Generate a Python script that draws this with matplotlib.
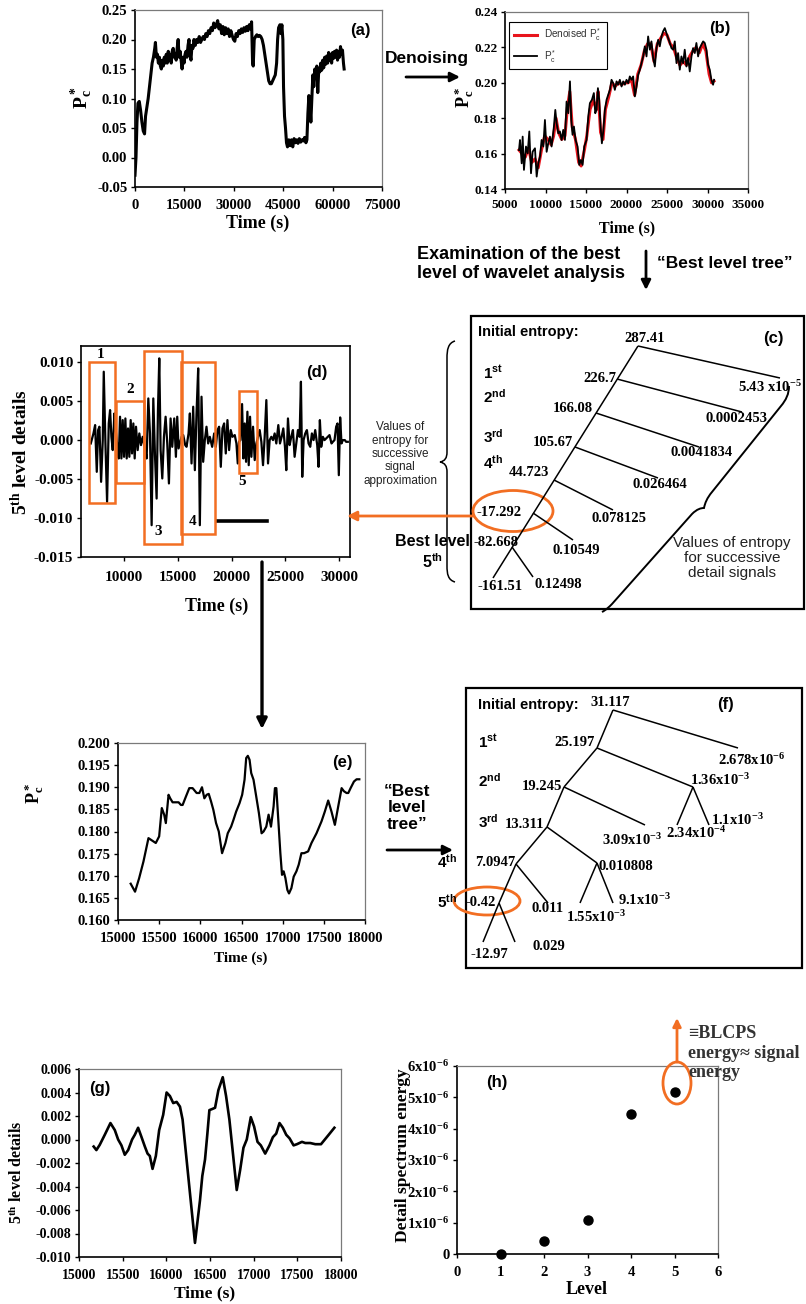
import matplotlib
matplotlib.use("Agg")
import matplotlib.pyplot as plt
from matplotlib.patches import Rectangle, Ellipse, PathPatch
from matplotlib.path import Path
from matplotlib.ticker import FixedLocator, FormatStrFormatter, StrMethodFormatter

W, H = 806, 1304
SERIF = ["Liberation Serif", "DejaVu Serif"]
SANS = ["Liberation Sans", "DejaVu Sans"]
ORANGE = "#F26E22"

plt.rcParams.update({
    "font.family": SERIF,
    "font.weight": "bold",
    "mathtext.fontset": "custom",
    "mathtext.default": "regular",
    "mathtext.rm": "Liberation Serif:bold",
    "mathtext.it": "Liberation Serif:bold",
    "mathtext.bf": "Liberation Serif:bold",
    "axes.unicode_minus": False,
    "xtick.major.size": 3, "ytick.major.size": 3,
    "xtick.major.width": 1.0, "ytick.major.width": 1.0,
    "xtick.major.pad": 5.5, "ytick.major.pad": 2.5,
})

# ---------------- data ----------------
# (a) raw dimensionless pressure over the whole run
a_time = [0, 300, 600, 900, 1300, 1700, 2100, 2500, 2900, 3200,
          3600, 4000, 4400, 4800, 5200, 5600, 6000, 6200, 6500, 6800,
          7100, 7400, 7700, 8000, 8300, 8600, 8900, 9200, 9500, 9800,
          10100, 10400, 10700, 11000, 11300, 11600, 11900, 12200, 12500, 12800,
          13100, 13400, 13700, 14000, 14300, 14600, 14900, 15200, 15500, 15800,
          16100, 16400, 16700, 17000, 17300, 17600, 17900, 18300, 18700, 19100,
          19500, 19900, 20300, 20700, 21100, 21500, 21900, 22300, 22700, 23100,
          23500, 23900, 24300, 24700, 25100, 25500, 25900, 26300, 26700, 27100,
          27500, 27900, 28300, 28700, 29100, 29500, 29900, 30300, 30700, 31100,
          31500, 31900, 32300, 32700, 33100, 33500, 33900, 34300, 34700, 35100,
          35400, 35700, 35900, 36200, 36600, 37000, 37400, 37800, 38200, 38600,
          39000, 39400, 39800, 40200, 40600, 41000, 41400, 41800, 42200, 42600,
          43000, 43300, 43600, 44000, 44300, 44600, 44900, 45100, 45400, 45700,
          46000, 46300, 46700, 47100, 47500, 47900, 48300, 48700, 49100, 49500,
          49900, 50300, 50700, 51100, 51500, 51900, 52200, 52500, 52800, 53100,
          53400, 53700, 54000, 54300, 54600, 54900, 55200, 55500, 55800, 56100,
          56400, 56700, 57000, 57300, 57600, 57900, 58200, 58500, 58800, 59100,
          59400, 59700, 60000, 60300, 60600, 60900, 61200, 61500, 61800, 62100,
          62400, 62700, 63000, 63300, 63500]
a_pc = [-0.03, 0.00, 0.06, 0.092, 0.095, 0.08, 0.06, 0.045, 0.040, 0.07,
        0.085, 0.10, 0.12, 0.14, 0.16, 0.17, 0.185, 0.195, 0.17, 0.175,
        0.16, 0.17, 0.155, 0.15, 0.165, 0.155, 0.17, 0.16, 0.175, 0.16,
        0.18, 0.165, 0.175, 0.16, 0.18, 0.185, 0.17, 0.175, 0.165, 0.185,
        0.20, 0.17, 0.18, 0.165, 0.15, 0.17, 0.16, 0.175, 0.18, 0.17,
        0.19, 0.20, 0.175, 0.165, 0.19, 0.185, 0.20, 0.19, 0.20, 0.195,
        0.205, 0.195, 0.20, 0.205, 0.20, 0.21, 0.205, 0.215, 0.21, 0.22,
        0.215, 0.228, 0.22, 0.225, 0.232, 0.218, 0.225, 0.21, 0.222, 0.208,
        0.22, 0.21, 0.218, 0.205, 0.215, 0.207, 0.20, 0.197, 0.21, 0.205,
        0.215, 0.21, 0.218, 0.212, 0.22, 0.214, 0.222, 0.215, 0.225, 0.218,
        0.23, 0.16, 0.155, 0.20, 0.205, 0.208, 0.205, 0.207, 0.205, 0.20,
        0.19, 0.175, 0.16, 0.145, 0.13, 0.125, 0.125, 0.13, 0.135, 0.14,
        0.16, 0.20, 0.22, 0.225, 0.21, 0.225, 0.20, 0.12, 0.07, 0.05,
        0.025, 0.018, 0.03, 0.02, 0.03, 0.018, 0.032, 0.025, 0.03, 0.024,
        0.032, 0.026, 0.03, 0.028, 0.034, 0.025, 0.03, 0.075, 0.105, 0.09,
        0.06, 0.10, 0.14, 0.12, 0.15, 0.135, 0.155, 0.11, 0.15, 0.145,
        0.16, 0.148, 0.165, 0.152, 0.17, 0.158, 0.172, 0.16, 0.178, 0.165,
        0.175, 0.16, 0.178, 0.168, 0.18, 0.17, 0.182, 0.165, 0.18, 0.17,
        0.188, 0.175, 0.182, 0.16, 0.15]

# (b) selected window: measured and denoised signal
b_time = [6730, 6850, 7060, 7180, 7340, 7590, 7800, 8000, 8210, 8410,
          8700, 8910, 9110, 9320, 9520, 9730, 9930, 10140, 10340, 10550,
          10750, 11040, 11210, 11370, 11580, 11780, 11990, 12190, 12400, 12600,
          12810, 13020, 13180, 13340, 13510, 13710, 13960, 14170, 14370, 14580,
          14780, 15070, 15280, 15480, 15730, 15970, 16140, 16300, 16470, 16630,
          16800, 16960, 17130, 17330, 17540, 17740, 17950, 18150, 18360, 18560,
          18770, 18970, 19180, 19390, 19590, 19800, 20000, 20210, 20410, 20620,
          20820, 21030, 21240, 21440, 21650, 21850, 22060, 22260, 22470, 22670,
          22880, 23080, 23290, 23500, 23700, 23910, 24110, 24320, 24520, 24730,
          24930, 25140, 25350, 25550, 25760, 25960, 26170, 26370, 26580, 26780,
          26990, 27190, 27400, 27610, 27810, 28020, 28220, 28430, 28630, 28840,
          29040, 29250, 29460, 29660, 29870, 30070, 30280, 30480, 30690, 30810]
b_pc = [0.162, 0.1677, 0.1545, 0.1696, 0.1508, 0.164, 0.1602, 0.1725, 0.1489, 0.1611,
        0.163, 0.147, 0.1545, 0.1583, 0.1677, 0.164, 0.179, 0.161, 0.1658, 0.1696,
        0.164, 0.1753, 0.1847, 0.1772, 0.1715, 0.1725, 0.1677, 0.1734, 0.1677, 0.1894,
        0.1828, 0.2008, 0.179, 0.1706, 0.1753, 0.1677, 0.164, 0.1536, 0.1564, 0.1536,
        0.164, 0.1677, 0.1809, 0.1885, 0.1904, 0.1942, 0.1828, 0.1847, 0.197, 0.1904,
        0.1753, 0.1658, 0.1725, 0.1847, 0.1904, 0.1932, 0.196, 0.2017, 0.1998, 0.196,
        0.2008, 0.1989, 0.2017, 0.1979, 0.2008, 0.1989, 0.2017, 0.1998, 0.2036, 0.2017,
        0.2036, 0.1923, 0.1979, 0.2045, 0.2074, 0.2111, 0.2149, 0.2206, 0.2149, 0.2262,
        0.2187, 0.2234, 0.214, 0.2092, 0.2196, 0.2243, 0.2206, 0.2262, 0.2291, 0.2309,
        0.2281, 0.2253, 0.2225, 0.2196, 0.2187, 0.2234, 0.2111, 0.2168, 0.2074, 0.2149,
        0.2111, 0.2187, 0.2092, 0.214, 0.2064, 0.2149, 0.2196, 0.2168, 0.2225, 0.2149,
        0.2196, 0.2215, 0.2234, 0.2225, 0.2187, 0.2102, 0.2074, 0.2017, 0.1989, 0.2017]
bd_time = [6730, 7100, 7500, 7900, 8300, 8700, 9100, 9500, 9900, 10300,
           10700, 11000, 11300, 11600, 12000, 12400, 12700, 13000, 13300, 13700,
           14100, 14400, 14800, 15100, 15500, 15900, 16300, 16500, 16800, 17100,
           17400, 17800, 18200, 18600, 19000, 19400, 19800, 20200, 20600, 21000,
           21400, 21800, 22200, 22600, 23000, 23400, 23800, 24200, 24600, 25000,
           25400, 25800, 26200, 26600, 27000, 27400, 27800, 28200, 28600, 29000,
           29400, 29800, 30200, 30500, 30800]
bd_pc = [0.162, 0.160, 0.158, 0.163, 0.155, 0.157, 0.152, 0.162, 0.170, 0.168,
         0.165, 0.170, 0.180, 0.172, 0.168, 0.170, 0.186, 0.195, 0.175, 0.168,
         0.155, 0.153, 0.162, 0.170, 0.185, 0.190, 0.185, 0.195, 0.172, 0.168,
         0.185, 0.192, 0.200, 0.198, 0.200, 0.199, 0.200, 0.200, 0.202, 0.193,
         0.205, 0.210, 0.218, 0.222, 0.222, 0.212, 0.222, 0.225, 0.228, 0.227,
         0.222, 0.220, 0.214, 0.210, 0.212, 0.210, 0.215, 0.218, 0.220, 0.217,
         0.222, 0.218, 0.205, 0.200, 0.201]

# (d) 5th level detail of the denoised signal (values x 1e-3)
d_time = [6910, 7157, 7312, 7466, 7590, 7713, 7868, 8022, 8115, 8270,
          8424, 8579, 8702, 8826, 8949, 9104, 9228, 9382, 9506, 9629,
          9753, 9876, 10000, 10124, 10247, 10371, 10494, 10618, 10742, 10865,
          10989, 11112, 11267, 11421, 11576, 11730, 11947, 12101, 12256, 12410,
          12565, 12719, 12874, 13028, 13152, 13275, 13399, 13554, 13708, 13863,
          14017, 14172, 14326, 14481, 14666, 14820, 14944, 15068, 15191, 15346,
          15500, 15686, 15809, 15995, 16118, 16273, 16427, 16582, 16736, 16891,
          17045, 17200, 17354, 17509, 17663, 17818, 17972, 18189, 18374, 18528,
          18683, 18837, 18992, 19146, 19301, 19455, 19610, 19764, 19919, 20073,
          20290, 20444, 20568, 20691, 20815, 20970, 21093, 21217, 21340, 21464,
          21588, 21711, 21835, 21989, 22144, 22298, 22453, 22607, 22762, 22916,
          23071, 23225, 23380, 23534, 23689, 23843, 23998, 24152, 24338, 24492,
          24647, 24801, 24956, 25079, 25234, 25388, 25543, 25697, 25852, 26006,
          26161, 26315, 26439, 26562, 26686, 26841, 26995, 27150, 27304, 27459,
          27613, 27768, 27953, 28077, 28200, 28324, 28478, 28633, 28787, 28942,
          29096, 29282, 29405, 29560, 29714, 29838, 29961, 30085, 30209, 30332,
          30518, 30641, 30796]
d_detail_milli = [-0.47, 0.81, 1.88, -4.10, 1.24, 1.67, -5.38, -0.04, 8.71, -0.47,
                  -7.94, 2.09, 3.80, 0.38, -1.32, 3.37, 1.24, -0.90, -2.39, 2.95,
                  -2.39, 2.52, -2.18, 2.73, -2.39, 1.45, -2.18, 2.52, -1.75, 2.09,
                  -2.39, 1.67, -1.32, 0.81, -0.68, 0.38, -1.11, -2.39, 5.29, 0.81,
                  -10.93, 5.29, -1.96, -7.52, 3.80, 10.42, -1.32, -4.95, 0.38, 2.95,
                  -0.47, -5.59, 2.73, -0.90, 2.73, -2.18, 2.95, -1.11, -0.47, 0.38,
                  0.60, -0.68, -0.90, 0.81, 3.37, -3.03, 4.23, -3.89, 3.37, 9.14,
                  -10.93, 5.51, -2.82, -0.04, 1.67, -0.47, 0.38, -0.90, 0.81, -0.90,
                  1.24, 1.67, -3.46, 1.45, 2.09, -1.75, 2.52, -1.32, 1.24, 0.38,
                  0.60, -0.47, -3.03, -0.26, -0.04, 4.57, -2.39, 2.09, -2.82, 3.59,
                  -3.25, 2.95, -2.18, 1.67, -2.60, -0.47, 0.38, 1.24, -0.26, -3.25,
                  0.38, 5.08, -3.03, -0.04, 0.38, -0.04, 0.81, -0.47, 1.88, -0.47,
                  0.38, 1.45, -0.90, -3.89, 2.73, -0.68, 0.38, 1.24, -2.18, -0.47,
                  1.24, 0.38, 7.43, -4.74, -0.04, 0.81, 1.24, -0.47, -0.90, 0.81,
                  -0.04, 1.24, -0.68, -3.46, 2.52, -0.90, 0.38, -0.04, 0.17, 0.38,
                  0.60, -0.47, -0.26, -0.04, 1.67, 2.09, -4.53, 2.86, -0.47, -0.04,
                  -0.04, -0.26, -0.26]

# (e) zoomed BLCPS window of the denoised signal
e_time = [15154, 15207, 15256, 15309, 15370, 15459, 15500, 15532, 15561, 15581,
          15614, 15634, 15663, 15736, 15764, 15785, 15825, 15866, 15906, 15955,
          15988, 16020, 16049, 16077, 16102, 16130, 16158, 16191, 16224, 16264,
          16305, 16333, 16374, 16402, 16435, 16476, 16508, 16537, 16557, 16577,
          16598, 16618, 16646, 16679, 16711, 16744, 16768, 16801, 16829, 16858,
          16890, 16906, 16923, 16947, 16972, 16992, 17012, 17033, 17057, 17077,
          17106, 17134, 17167, 17195, 17228, 17260, 17309, 17350, 17411, 17472,
          17512, 17553, 17593, 17634, 17675, 17716, 17744, 17776, 17797, 17825,
          17866, 17898, 17931]
e_pc = [0.1682, 0.1664, 0.1694, 0.1732, 0.1785, 0.1774, 0.1789, 0.1853, 0.1838, 0.1819,
        0.1883, 0.1875, 0.1866, 0.1866, 0.186, 0.186, 0.1879, 0.1898, 0.1898, 0.1887,
        0.1887, 0.19, 0.1875, 0.1883, 0.1885, 0.1868, 0.1849, 0.1819, 0.18, 0.1751,
        0.1774, 0.1796, 0.1811, 0.1826, 0.1845, 0.1864, 0.1883, 0.1917, 0.1966, 0.1971,
        0.1962, 0.1932, 0.1917, 0.1879, 0.1842, 0.1796, 0.18, 0.1811, 0.1838, 0.1811,
        0.1857, 0.1898, 0.1898, 0.1826, 0.1751, 0.1702, 0.171, 0.1695, 0.1668, 0.166,
        0.1672, 0.1698, 0.171, 0.1725, 0.1751, 0.1751, 0.1755, 0.1774, 0.1796, 0.1823,
        0.1845, 0.187, 0.1845, 0.1815, 0.1857, 0.1898, 0.1891, 0.1887, 0.1887, 0.1898,
        0.1913, 0.1918, 0.1918]

# (g) 5th level detail of the BLCPS window
g_time = [15168, 15199, 15237, 15295, 15360, 15410, 15448, 15486, 15524, 15563,
          15608, 15639, 15677, 15716, 15754, 15785, 15811, 15842, 15880, 15918,
          15964, 16003, 16041, 16079, 16118, 16156, 16186, 16225, 16271, 16328,
          16385, 16412, 16443, 16470, 16493, 16527, 16558, 16596, 16646, 16684,
          16722, 16760, 16806, 16845, 16883, 16921, 16967, 17005, 17044, 17082,
          17132, 17181, 17220, 17258, 17296, 17334, 17373, 17411, 17457, 17495,
          17553, 17591, 17648, 17706, 17771, 17859, 17924]
g_detail = [-0.0006, -0.0009, -0.00046, 0.0004, 0.0014, 0.0008, 0.0, -0.0005, -0.0013, -0.0009,
            0.0, 0.0004, 0.001, 0.0002, -0.0006, -0.0012, -0.0014, -0.0025, -0.0014, 0.0008,
            0.0021, 0.004, 0.0037, 0.0031, 0.0032, 0.0028, 0.0017, -0.0012, -0.0046, -0.0088,
            -0.0052, -0.0031, -0.0017, 0.0005, 0.0025, 0.0026, 0.0027, 0.0042, 0.0053, 0.0037,
            0.0017, -0.001, -0.0043, -0.0026, -0.0007, 0.0, 0.0019, 0.0011, -0.0002, -0.0005,
            -0.0012, -0.0005, 0.0002, 0.0005, 0.0014, 0.001, 0.0004, 0.0001, -0.0005, -0.0004,
            -0.0002, -0.0003, -0.0003, -0.0004, -0.0004, 0.0004, 0.001]

# (h) detail spectrum energy per decomposition level
h_level = [1, 2, 3, 4, 5]
h_energy = [0.0, 0.42e-6, 1.10e-6, 4.47e-6, 5.18e-6]
h_yticks = [0, 1e-6, 2e-6, 3e-6, 4e-6, 5e-6, 6e-6]
h_yticklabels = ["0", "1x10$^{-6}$", "2x10$^{-6}$", "3x10$^{-6}$",
                 "4x10$^{-6}$", "5x10$^{-6}$", "6x10$^{-6}$"]

# entropy trees
c_approx = ["287.41", "226.7", "166.08", "105.67", "44.723", "-17.292", "-82.668", "-161.51"]
c_detail = ["5.43 x10$^{-5}$", "0.0002453", "0.0041834", "0.026464",
            "0.078125", "0.10549", "0.12498"]
f_labels = {"root": "31.117", "a1": "25.197", "d1": "2.678x10$^{-6}$",
            "a2": "19.245", "d2": "1.36x10$^{-3}$", "d2a": "2.34x10$^{-4}$",
            "d2d": "1.1x10$^{-3}$", "a3": "13.311", "d3": "3.09x10$^{-3}$",
            "a4": "7.0947", "d4": "0.010808", "d4a": "1.55x10$^{-3}$",
            "d4d": "9.1x10$^{-3}$", "a5": "-0.42", "d5": "0.011",
            "a6": "-12.97", "d6": "0.029"}
levels = ["1$^{st}$", "2$^{nd}$", "3$^{rd}$", "4$^{th}$", "5$^{th}$"]

# ---------------- figure ----------------
fig = plt.figure(figsize=(W / 100, H / 100), dpi=100)


def panel(l, t, r, b):
    return fig.add_axes([l / W, 1 - b / H, (r - l) / W, (b - t) / H])


def frame(ax, fs, light=True):
    for s in ("left", "bottom"):
        ax.spines[s].set_color("black")
        ax.spines[s].set_linewidth(1.2)
    for s in ("top", "right"):
        ax.spines[s].set_color("#7a7a7a" if light else "black")
        ax.spines[s].set_linewidth(0.9 if light else 1.2)
    ax.tick_params(labelsize=fs, direction="out")


def int_ticks(ax, ticks):
    ax.xaxis.set_major_locator(FixedLocator(ticks))
    ax.xaxis.set_major_formatter(StrMethodFormatter("{x:.0f}"))


def y_ticks(ax, ticks, fmt):
    ax.yaxis.set_major_locator(FixedLocator(ticks))
    ax.yaxis.set_major_formatter(FormatStrFormatter(fmt))


# (a)
axa = panel(135, 10, 382, 187)
axa.plot(a_time, a_pc, color="k", lw=2.2)
axa.set_xlim(0, 75000)
axa.set_ylim(-0.05, 0.25)
int_ticks(axa, [0, 15000, 30000, 45000, 60000, 75000])
y_ticks(axa, [-0.05, 0.0, 0.05, 0.10, 0.15, 0.20, 0.25], "%.2f")
frame(axa, 10.5)

# (b)
axb = panel(505, 12, 748, 189)
l_den, = axb.plot(bd_time, bd_pc, color="#e8141c", lw=2.2)
l_raw, = axb.plot(b_time, b_pc, color="k", lw=1.3)
axb.set_xlim(5000, 35000)
axb.set_ylim(0.14, 0.24)
int_ticks(axb, [5000, 10000, 15000, 20000, 25000, 30000, 35000])
y_ticks(axb, [0.14, 0.16, 0.18, 0.20, 0.22, 0.24], "%.2f")
frame(axb, 9.5)
axb.tick_params(axis="x", pad=4.5)
lg = axb.legend([l_den, l_raw], ["Denoised P$_c^*$", "P$_c^*$"], loc="upper left",
                bbox_to_anchor=(4 / 243, 167 / 177), borderaxespad=0, fancybox=False,
                edgecolor="k", framealpha=1, handlelength=2.3, borderpad=0.45,
                labelspacing=0.45, handletextpad=0.8,
                prop={"family": SANS, "weight": "normal", "size": 7.2})
lg.get_frame().set_linewidth(0.8)
for t in lg.get_texts():
    t.set_color("#333333")

# (d)
axd = panel(81, 346, 350, 557)
axd.plot(d_time, [v * 1e-3 for v in d_detail_milli], color="k", lw=1.6)
axd.set_xlim(6000, 31000)
axd.set_ylim(-0.015, 0.012)
int_ticks(axd, [10000, 15000, 20000, 25000, 30000])
y_ticks(axd, [-0.015, -0.010, -0.005, 0.0, 0.005, 0.010], "%.3f")
frame(axd, 11, light=False)
axd.tick_params(axis="x", pad=7)
d_boxes = [(6760, 9170, -0.0081, 0.0100), (9260, 11850, -0.0055, 0.0049),
           (11850, 15370, -0.0133, 0.0113), (15280, 18430, -0.0121, 0.0100),
           (20650, 22320, -0.0042, 0.0062)]
d_box_tags = [(7780, 0.0109), (10560, 0.0064), (13150, -0.0117),
              (16390, -0.0105), (21020, -0.0054)]
for i, (x0, x1, y0, y1) in enumerate(d_boxes):
    axd.add_patch(Rectangle((x0, y0), x1 - x0, y1 - y0, fill=False,
                            ec=ORANGE, lw=1.8, zorder=3))
    axd.text(d_box_tags[i][0], d_box_tags[i][1], str(i + 1), fontsize=11,
             ha="center", va="center", zorder=4)
axd.plot([18610, 23240], [-0.0104, -0.0104], color="k", lw=2.6)

# (e)
axe = panel(118, 743, 365, 920)
axe.plot(e_time, e_pc, color="k", lw=1.6)
axe.set_xlim(15000, 18000)
axe.set_ylim(0.160, 0.200)
int_ticks(axe, [15000, 15500, 16000, 16500, 17000, 17500, 18000])
y_ticks(axe, [0.160, 0.165, 0.170, 0.175, 0.180, 0.185, 0.190, 0.195, 0.200], "%.3f")
frame(axe, 10.5)

# (g)
axg = panel(79, 1069, 341, 1257)
axg.plot(g_time, g_detail, color="k", lw=1.9)
axg.set_xlim(15000, 18000)
axg.set_ylim(-0.010, 0.006)
int_ticks(axg, [15000, 15500, 16000, 16500, 17000, 17500, 18000])
y_ticks(axg, [-0.010, -0.008, -0.006, -0.004, -0.002, 0.0, 0.002, 0.004, 0.006], "%.3f")
frame(axg, 10)

# (h)
axh = panel(457, 1066, 718, 1254)
axh.plot(h_level, h_energy, "o", color="k", ms=6.5, clip_on=False, zorder=3)
axh.set_xlim(0, 6)
axh.set_ylim(0, 6e-6)
int_ticks(axh, [0, 1, 2, 3, 4, 5, 6])
axh.yaxis.set_major_locator(FixedLocator(h_yticks))
axh.set_yticklabels(h_yticklabels)
frame(axh, 10.5)

# ---------------- annotation layer (pixel coordinates) ----------------
ov = fig.add_axes([0, 0, 1, 1], zorder=10)
ov.set_xlim(0, W)
ov.set_ylim(H, 0)
ov.set_axis_off()


def put(x, y, s, size, fam=SERIF, ha="center", va="center", weight="bold", **kw):
    ov.text(x, y, s, fontsize=size, family=fam, ha=ha, va=va, fontweight=weight, **kw)


def arrow(x0, y0, x1, y1, color="k", lw=2.0, ms=14):
    ov.annotate("", xy=(x1, y1), xytext=(x0, y0),
                arrowprops=dict(arrowstyle="-|>", color=color, lw=lw,
                                mutation_scale=ms, shrinkA=0, shrinkB=0))


def seg(p, q, lw=1.1):
    ov.plot([p[0], q[0]], [p[1], q[1]], color="k", lw=lw, solid_capstyle="butt")


# axis titles
put(82, 98, "P$_c^*$", 14, rotation=90)
put(258, 223, "Time (s)", 13)
put(464, 97, "P$_c^*$", 13, rotation=90)
put(627, 228, "Time (s)", 11.5)
put(20, 452, "5$^{th}$ level details", 14, rotation=90)
put(217, 606, "Time (s)", 13)
put(34, 793, "P$_c^*$", 13, rotation=90)
put(241, 958, "Time (s)", 11)
put(17, 1172, "5$^{th}$ level details", 11.5, rotation=90)
put(205, 1293, "Time (s)", 12.5)
put(403, 1155, "Detail spectrum energy", 12.5, rotation=90)
put(587, 1289, "Level", 13)

# panel tags
for x, y, tag in [(360, 30, "(a)"), (720, 28, "(b)"), (773, 338, "(c)"),
                  (317, 372, "(d)"), (342, 762, "(e)"), (725, 705, "(f)"),
                  (100, 1088, "(g)"), (497, 1082, "(h)")]:
    put(x, y, tag, 12, fam=SANS)

# flow between panels
put(427, 58, "Denoising", 12.5, fam=SANS)
arrow(406, 77, 460, 77, lw=2.0, ms=14)
put(417, 264, "Examination of the best\nlevel of wavelet analysis", 13, fam=SANS,
    ha="left", linespacing=1.15)
arrow(646, 251, 646, 290, lw=2.0, ms=14)
put(657, 263, "\u201cBest level tree\u201d", 12.5, fam=SANS, ha="left")
arrow(262, 562, 262, 729, lw=2.4, ms=15)
put(407, 808, "\u201cBest\nlevel\ntree\u201d", 12.5, fam=SANS, linespacing=1.15)
arrow(387, 850, 453, 850, lw=2.0, ms=14)

# (c) entropy tree
ov.add_patch(Rectangle((471, 316), 333, 293, fill=False, ec="k", lw=1.6))
put(478, 332, "Initial entropy:", 10.5, fam=SANS, ha="left")
for (x, y), s in zip([(483, 373), (483, 397), (483, 437), (483, 463)], levels[:4]):
    put(x, y, s, 11, fam=SANS, ha="left")
c_nodes = [(638, 346), (617, 379), (596, 413), (575, 447), (554, 480),
           (533, 513), (512, 547), (493, 578)]
c_leaves = [(780, 378), (742, 412), (699, 447), (658, 478), (613, 510),
            (573, 540), (533, 577)]
c_node_lab = [(645, 339), (600, 378), (573, 409), (553, 443), (529, 473),
              (499, 512), (496, 543), (500, 587)]
c_leaf_lab = [(770, 387), (736, 418), (702, 453), (660, 485), (619, 519),
              (576, 551), (558, 584)]
seg(c_nodes[0], c_nodes[-1])
for n, lf in zip(c_nodes[:-1], c_leaves):
    seg(n, lf)
for (x, y), s in zip(c_node_lab, c_approx):
    put(x, y, s, 10.5)
for (x, y), s in zip(c_leaf_lab, c_detail):
    put(x, y, s, 10.5)
put(732, 558, "Values of entropy\nfor successive\ndetail signals", 11, fam=SANS,
    weight="normal", linespacing=1.1, color="#222222")
brace_r = Path([(789, 386), (789, 394), (786, 400), (781, 406), (712, 492),
                (707, 498), (705, 503), (704, 508), (701, 508), (697, 509), (692, 514),
                (612, 604), (609, 607), (606, 610), (602, 612)],
               [Path.MOVETO, Path.CURVE4, Path.CURVE4, Path.CURVE4, Path.LINETO,
                Path.CURVE4, Path.CURVE4, Path.CURVE4, Path.CURVE4, Path.CURVE4, Path.CURVE4,
                Path.LINETO, Path.CURVE4, Path.CURVE4, Path.CURVE4])
ov.add_patch(PathPatch(brace_r, fc="none", ec="k", lw=1.4))
brace_l = Path([(455, 341), (448, 343), (447, 350), (447, 358), (447, 452),
                (447, 458), (445, 461), (440, 462), (445, 463), (447, 466), (447, 472),
                (447, 566), (447, 574), (448, 580), (455, 582)],
               [Path.MOVETO, Path.CURVE4, Path.CURVE4, Path.CURVE4, Path.LINETO,
                Path.CURVE4, Path.CURVE4, Path.CURVE4, Path.CURVE4, Path.CURVE4, Path.CURVE4,
                Path.LINETO, Path.CURVE4, Path.CURVE4, Path.CURVE4])
ov.add_patch(PathPatch(brace_l, fc="none", ec="k", lw=1.1))
put(400, 454, "Values of\nentropy for\nsuccessive\nsignal\napproximation", 8.5,
    fam=SANS, weight="normal", linespacing=1.15, color="#222222")
put(395, 542, "Best level", 11.5, fam=SANS, ha="left")
put(432, 562, levels[4], 11.5, fam=SANS)
ov.add_patch(Ellipse((513, 511), 80, 41, fill=False, ec=ORANGE, lw=2.0))
arrow(473, 516, 347, 516, color=ORANGE, lw=2.0, ms=14)

# (f) entropy tree
ov.add_patch(Rectangle((466, 688), 336, 280, fill=False, ec="k", lw=1.6))
put(478, 705, "Initial entropy:", 10.5, fam=SANS, ha="left")
for (x, y), s in zip([(478, 742), (478, 781), (478, 822), (437, 862), (437, 902)], levels):
    put(x, y, s, 11, fam=SANS, ha="left")
f_pts = {"root": (613, 710), "a1": (597, 748), "d1": (738, 748), "a2": (564, 787),
         "d2": (693, 787), "d2a": (677, 825), "d2d": (709, 825), "a3": (547, 827),
         "d3": (645, 825), "a4": (516, 864), "d4": (597, 863), "d4a": (580, 903),
         "d4d": (613, 903), "a5": (499, 903), "d5": (548, 903), "a6": (483, 942),
         "d6": (515, 942)}
f_edges = [("root", "a1"), ("root", "d1"), ("a1", "a2"), ("a1", "d2"), ("d2", "d2a"),
           ("d2", "d2d"), ("a2", "a3"), ("a2", "d3"), ("a3", "a4"), ("a3", "d4"),
           ("d4", "d4a"), ("d4", "d4d"), ("a4", "a5"), ("a4", "d5"), ("a5", "a6"),
           ("a5", "d6")]
for p, q in f_edges:
    seg(f_pts[p], f_pts[q])
f_lab_xy = {"root": (610, 703), "a1": (575, 743), "d1": (752, 760), "a2": (542, 787),
            "d2": (720, 780), "d2a": (696, 833), "d2d": (737, 820), "a3": (525, 824),
            "d3": (632, 840), "a4": (495, 862), "d4": (626, 866), "d4a": (596, 917),
            "d4d": (644, 900), "a5": (481, 902), "d5": (548, 909), "a6": (489, 955),
            "d6": (549, 947)}
for k, (x, y) in f_lab_xy.items():
    put(x, y, f_labels[k], 10.5)
ov.add_patch(Ellipse((487, 901), 66, 28, fill=False, ec=ORANGE, lw=2.0))

# (h) highlight of the best level
ov.add_patch(Ellipse((677, 1083), 28, 42, fill=False, ec=ORANGE, lw=2.0))
arrow(677, 1062, 677, 1018, color=ORANGE, lw=2.0, ms=12)
put(688, 1053, "\u2261BLCPS\nenergy\u2248 signal\nenergy", 13, ha="left",
    linespacing=1.22, color="#333333")

fig.savefig("out.png", dpi=100)
